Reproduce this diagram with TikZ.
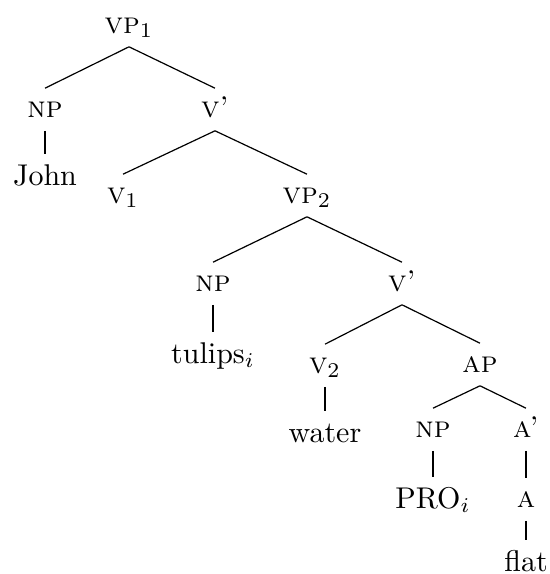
\documentclass[tikz,border=0pt]{standalone}
\begin{document}
\begin{tikzpicture}[x=0.3333pt,y=-0.3333pt,
  lab/.style={anchor=base, text height=7pt, text depth=2pt, inner xsep=1pt, inner ysep=2.4pt, font=\scshape},
  word/.style={anchor=base, text height=7.6pt, text depth=2pt, inner xsep=1pt, inner ysep=2.4pt},
  branch/.style={line width=0.4pt}]
\useasboundingbox (0,0) rectangle (549,574);
\node[lab] (vp1) at (129,33) {vp$_1$};
\node[lab] (np1) at (45,117) {np};
\node[word] (john) at (45,185) {John};
\node[lab] (vb1) at (215,117) {v'};
\node[lab] (v1) at (123,203) {v$_1$};
\node[lab] (vp2) at (307,203) {vp$_2$};
\node[lab] (np2) at (213,291) {np};
\node[lab] (vb2) at (402,291) {v'};
\node[word] (tulips) at (213,363) {tulips$_i$};
\node[lab] (v2) at (325,373) {v$_2$};
\node[lab] (ap) at (480,372) {ap};
\node[word] (water) at (325,442) {water};
\node[lab] (np3) at (433,437) {np};
\node[lab] (ab) at (526,437) {a'};
\node[word] (pro) at (433,508) {PRO$_i$};
\node[lab] (a) at (526,507) {a};
\node[word] (flat) at (526,571) {flat};
\draw[branch] (vp1.south) -- (np1.north);
\draw[branch] (vp1.south) -- (vb1.north);
\draw[branch] (np1.south) -- (john.north);
\draw[branch] (vb1.south) -- (v1.north);
\draw[branch] (vb1.south) -- (vp2.north);
\draw[branch] (vp2.south) -- (np2.north);
\draw[branch] (vp2.south) -- (vb2.north);
\draw[branch] (np2.south) -- (tulips.north);
\draw[branch] (vb2.south) -- (v2.north);
\draw[branch] (vb2.south) -- (ap.north);
\draw[branch] (v2.south) -- (water.north);
\draw[branch] (ap.south) -- (np3.north);
\draw[branch] (ap.south) -- (ab.north);
\draw[branch] (np3.south) -- (pro.north);
\draw[branch] (ab.south) -- (a.north);
\draw[branch] (a.south) -- (flat.north);
\end{tikzpicture}
\end{document}
